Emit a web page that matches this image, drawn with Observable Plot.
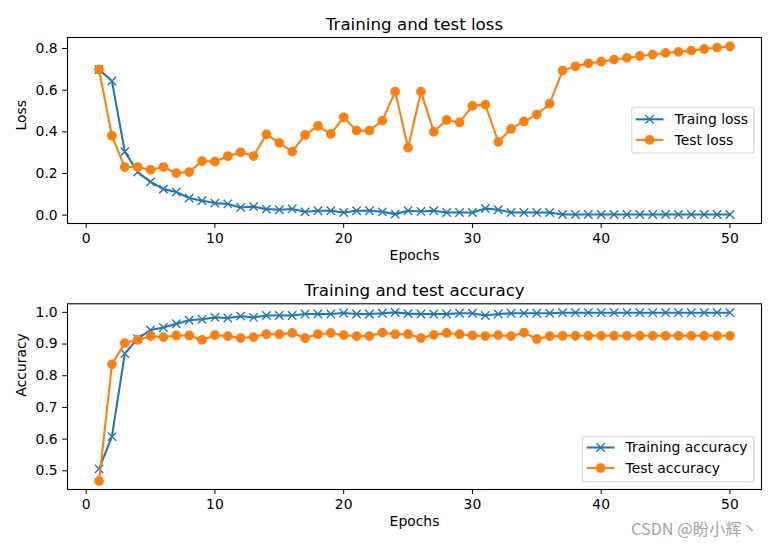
<!DOCTYPE html>
<html>
<head>
<meta charset="utf-8">
<script src="https://cdn.jsdelivr.net/npm/d3@7"></script>
<script src="https://cdn.jsdelivr.net/npm/@observablehq/plot@0.6"></script>
<style>
  html, body { margin: 0; padding: 0; background: white; }
  #chart svg { display: block; }
</style>
</head>
<body>
<div id="chart"></div>
<script>
const epochs = [1,2,3,4,5,6,7,8,9,10,11,12,13,14,15,16,17,18,19,20,21,22,23,24,25,26,27,28,29,30,31,32,33,34,35,36,37,38,39,40,41,42,43,44,45,46,47,48,49,50];

const trainLoss = [0.699,0.644,0.305,0.207,0.160,0.125,0.111,0.082,0.069,0.058,
  0.054,0.037,0.041,0.029,0.026,0.030,0.016,0.021,0.021,0.013,
  0.021,0.021,0.016,0.005,0.021,0.018,0.021,0.013,0.013,0.013,
  0.032,0.026,0.013,0.013,0.013,0.013,0.003,0.003,0.003,0.003,
  0.003,0.003,0.003,0.003,0.003,0.003,0.003,0.003,0.003,0.003];

const testLoss = [0.699,0.381,0.231,0.231,0.218,0.231,0.202,0.207,0.260,0.257,
  0.283,0.302,0.284,0.388,0.347,0.305,0.385,0.429,0.390,0.470,
  0.406,0.406,0.454,0.593,0.324,0.593,0.400,0.457,0.445,0.525,
  0.531,0.352,0.414,0.450,0.483,0.535,0.694,0.715,0.729,0.737,
  0.747,0.755,0.764,0.771,0.779,0.784,0.790,0.798,0.805,0.810];

const trainAcc = [0.506,0.608,0.870,0.917,0.944,0.952,0.964,0.975,0.978,0.984,
  0.982,0.988,0.984,0.990,0.990,0.990,0.995,0.995,0.995,0.998,
  0.995,0.995,0.997,1.000,0.996,0.995,0.995,0.995,0.997,0.997,
  0.990,0.995,0.997,0.997,0.997,0.997,0.999,0.999,0.999,0.999,
  0.999,0.999,0.999,0.999,0.999,0.999,0.999,0.999,0.999,0.999];

const testAcc = [0.468,0.836,0.903,0.913,0.925,0.922,0.927,0.927,0.913,0.928,
  0.925,0.919,0.922,0.931,0.931,0.935,0.919,0.931,0.935,0.928,
  0.925,0.925,0.936,0.931,0.931,0.919,0.929,0.935,0.931,0.927,
  0.925,0.928,0.925,0.936,0.916,0.925,0.926,0.926,0.926,0.926,
  0.926,0.926,0.926,0.926,0.926,0.926,0.926,0.926,0.926,0.926];

const xTicks = [0,10,20,30,40,50];
const lossTicks = [0.0,0.2,0.4,0.6,0.8];
const accTicks = [0.5,0.6,0.7,0.8,0.9,1.0];

const lossTitle = "Training and test loss";
const accTitle = "Training and test accuracy";
const lossLabels = ["Traing loss", "Test loss"];
const accLabels = ["Training accuracy", "Test accuracy"];
const xLabel = "Epochs";
const watermark = "CSDN @盼小辉丶";

const C0 = "#1f77b4", C1 = "#ff7f0e";
const FS = 13.9;

function panel({height, marginTop, marginBottom, yDomain, yTicks, title, ylabel, trainY, testY}) {
  const rows = epochs.map((e, i) => ({epoch: e, train: trainY[i], test: testY[i]}));
  return Plot.plot({
    width: 776, height, marginLeft: 67, marginRight: 15, marginTop, marginBottom,
    style: {fontFamily: "DejaVu Sans", fontSize: FS + "px", background: "white", color: "black"},
    x: {domain: [-1.45, 52.45]},
    y: {domain: yDomain},
    marks: [
      Plot.axisX({ticks: xTicks, tickSize: 4.9, tickPadding: 4.9, label: null, fontSize: FS}),
      Plot.axisY({ticks: yTicks, tickFormat: d3.format(".1f"), tickSize: 4.9, tickPadding: 4.9, label: null, fontSize: FS}),
      Plot.line(rows, {x: "epoch", y: "train", stroke: C0, strokeWidth: 2.08}),
      Plot.dot(rows, {x: "epoch", y: "train", symbol: "times", stroke: C0, strokeWidth: 1.39, r: 3.9}),
      Plot.line(rows, {x: "epoch", y: "test", stroke: C1, strokeWidth: 2.08}),
      Plot.dot(rows, {x: "epoch", y: "test", fill: C1, stroke: C1, strokeWidth: 1.39, r: 4.17}),
      Plot.frame({stroke: "black", strokeWidth: 1.1}),
      Plot.text([title], {text: d => d, frameAnchor: "top", lineAnchor: "bottom", dy: -8, fontSize: 16.7}),
      Plot.text([xLabel], {text: d => d, frameAnchor: "bottom", lineAnchor: "top", dy: 27, fontSize: FS}),
      Plot.text([ylabel], {text: d => d, frameAnchor: "left", rotate: -90, dx: -46, fontSize: FS})
    ]
  });
}

function legend(svg, box, hx, rowsY, labels) {
  const g = d3.select(svg).append("g").attr("text-anchor", "start");
  g.append("rect").attr("x", box.x).attr("y", box.y).attr("width", box.w).attr("height", box.h)
    .attr("rx", 2.8).attr("fill", "white").attr("fill-opacity", 0.8)
    .attr("stroke", "#cccccc").attr("stroke-opacity", 0.8).attr("stroke-width", 1.1);
  const colors = [C0, C1];
  labels.forEach((lab, i) => {
    const y = rowsY[i];
    g.append("line").attr("x1", hx).attr("x2", hx + 27.8).attr("y1", y).attr("y2", y)
      .attr("stroke", colors[i]).attr("stroke-width", 2.08);
    const cx = hx + 13.9;
    if (i === 0) {
      const s = 4.17;
      g.append("path").attr("d", `M${cx-s},${y-s}L${cx+s},${y+s}M${cx-s},${y+s}L${cx+s},${y-s}`)
        .attr("stroke", C0).attr("stroke-width", 1.39).attr("fill", "none");
    } else {
      g.append("circle").attr("cx", cx).attr("cy", y).attr("r", 4.17)
        .attr("fill", C1).attr("stroke", C1).attr("stroke-width", 1.39);
    }
    g.append("text").attr("x", hx + 27.8 + 11.1).attr("y", y).attr("dy", "0.35em")
      .attr("text-anchor", "start")
      .attr("font-family", "DejaVu Sans").attr("font-size", FS).attr("fill", "black").text(lab);
  });
}

const topPanel = panel({height: 273, marginTop: 37, marginBottom: 50, yDomain: [-0.040, 0.853],
  yTicks: lossTicks, title: lossTitle, ylabel: "Loss", trainY: trainLoss, testY: testLoss});
const bottomPanel = panel({height: 274, marginTop: 30.3, marginBottom: 58, yDomain: [0.441, 1.027],
  yTicks: accTicks, title: accTitle, ylabel: "Accuracy", trainY: trainAcc, testY: testAcc});

legend(topPanel, {x: 631.7, y: 107.3, w: 122.3, h: 45.7}, 635.7, [119.3, 139.9], lossLabels);
legend(bottomPanel, {x: 582.3, y: 163.7, w: 171.7, h: 45}, 586.7, [174.5, 195], accLabels);

d3.select(bottomPanel).append("text").attr("x", 631).attr("y", 256).attr("dy", "0.35em")
  .attr("text-anchor", "start")
  .attr("font-family", "Noto Sans CJK SC").attr("font-size", 16.3).attr("fill", "#a3a3a3")
  .text(watermark);

document.getElementById("chart").append(topPanel, bottomPanel);
</script>
</body>
</html>
